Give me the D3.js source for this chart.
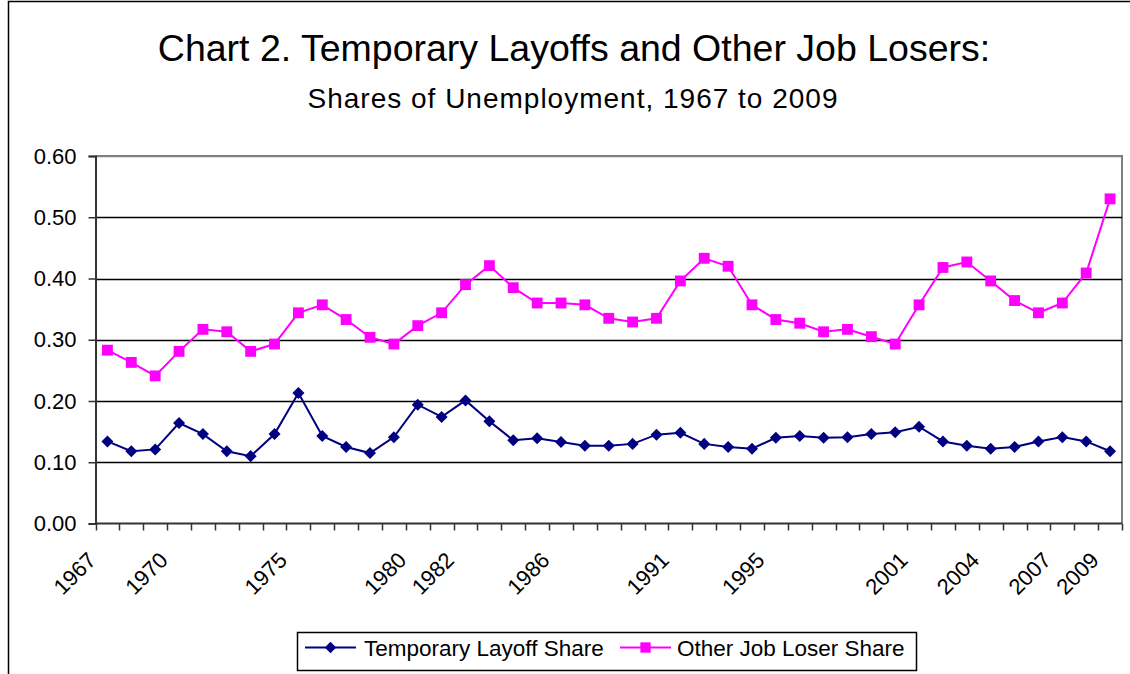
<!DOCTYPE html>
<html>
<head>
<meta charset="utf-8">
<script src="https://cdn.jsdelivr.net/npm/d3@7"></script>
<style>
  body { margin: 0; background: #fff; }
  svg { display: block; font-family: "Liberation Sans", Arial, sans-serif; }
</style>
</head>
<body>
<div id="chart"></div>
<script>
// Years on the category axis
const years = d3.range(1967, 2010);

// Only these years get a label under the axis
const labelYears = [1967, 1970, 1975, 1980, 1982, 1986, 1991, 1995, 2001, 2004, 2007, 2009];

// Temporary layoff share of unemployment
const tempLayoff = [
  0.134, 0.118, 0.121, 0.164, 0.146, 0.118, 0.110, 0.146, 0.213, 0.143,
  0.125, 0.115, 0.141, 0.194, 0.174, 0.201, 0.167, 0.136, 0.139, 0.133,
  0.127, 0.127, 0.130, 0.145, 0.148, 0.130, 0.125, 0.122, 0.140, 0.143,
  0.140, 0.141, 0.146, 0.149, 0.158, 0.134, 0.127, 0.122, 0.125, 0.134,
  0.141, 0.134, 0.118
];

// Other job loser share of unemployment
const otherLoser = [
  0.283, 0.263, 0.241, 0.281, 0.317, 0.313, 0.281, 0.293, 0.344, 0.357,
  0.333, 0.304, 0.293, 0.323, 0.344, 0.390, 0.421, 0.385, 0.360, 0.360,
  0.357, 0.335, 0.329, 0.335, 0.396, 0.433, 0.420, 0.357, 0.333, 0.327,
  0.313, 0.317, 0.305, 0.293, 0.357, 0.418, 0.427, 0.396, 0.364, 0.344,
  0.360, 0.409, 0.530
];

const yTicks = [0, 0.1, 0.2, 0.3, 0.4, 0.5, 0.6];

const width = 1130, height = 674;
const plot = { left: 95.5, right: 1122, top: 156, bottom: 523.5 };

const svg = d3.select('#chart')
  .append('svg')
  .attr('width', width)
  .attr('height', height);

// Chart frame
svg.append('rect')
  .attr('x', 8.5)
  .attr('y', 1.5)
  .attr('width', width + 10)
  .attr('height', height + 10)
  .attr('fill', '#fff')
  .attr('stroke', '#000')
  .attr('stroke-width', 1.5);

// Titles
svg.append('text')
  .attr('x', 574)
  .attr('y', 61)
  .attr('text-anchor', 'middle')
  .style('font-size', '37.5px')
  .text('Chart 2. Temporary Layoffs and Other Job Losers:');

svg.append('text')
  .attr('x', 573)
  .attr('y', 108)
  .attr('text-anchor', 'middle')
  .style('font-size', '28px')
  .style('letter-spacing', '1px')
  .text('Shares of Unemployment, 1967 to 2009');

const x = d3.scaleBand()
  .domain(years)
  .range([plot.left, plot.right]);

const y = d3.scaleLinear()
  .domain([0, 0.6])
  .range([plot.bottom, plot.top]);

const cx = d => x(d) + x.bandwidth() / 2;

// Plot area border (top and right, gray)
svg.append('path')
  .attr('d', `M${plot.left},${plot.top}H${plot.right}V${plot.bottom}`)
  .attr('fill', 'none')
  .attr('stroke', '#808080')
  .attr('stroke-width', 2);

// Gridlines
svg.append('g')
  .selectAll('line')
  .data(yTicks.slice(1))
  .join('line')
  .attr('x1', plot.left)
  .attr('x2', plot.right)
  .attr('y1', d => Math.round(y(d)) + 0.5)
  .attr('y2', d => Math.round(y(d)) + 0.5)
  .attr('stroke', d => d === 0.6 ? '#808080' : '#000')
  .attr('stroke-width', 1.5);

// Y axis
const yAxis = svg.append('g')
  .attr('transform', `translate(${plot.left},0)`)
  .call(d3.axisLeft(y).tickValues(yTicks).tickFormat(d3.format('.2f')).tickSize(7).tickPadding(12));
yAxis.select('.domain').attr('stroke', '#333').attr('stroke-width', 2);
yAxis.selectAll('.tick line').attr('stroke', '#333').attr('stroke-width', 1.5);
yAxis.selectAll('text')
  .style('font-size', '22px')
  .style('font-family', '"Liberation Sans", Arial, sans-serif')
  .attr('fill', '#000');

// X axis: ticks at category boundaries
const xAxisG = svg.append('g');
xAxisG.append('line')
  .attr('x1', plot.left)
  .attr('x2', plot.right)
  .attr('y1', plot.bottom)
  .attr('y2', plot.bottom)
  .attr('stroke', '#333')
  .attr('stroke-width', 2);

const boundaries = years.map(d => x(d)).concat([plot.right]);
xAxisG.selectAll('line.tick')
  .data(boundaries)
  .join('line')
  .attr('class', 'tick')
  .attr('x1', d => Math.round(d) + 0.5)
  .attr('x2', d => Math.round(d) + 0.5)
  .attr('y1', plot.bottom)
  .attr('y2', plot.bottom + 7)
  .attr('stroke', '#333')
  .attr('stroke-width', 1.5);

xAxisG.selectAll('text')
  .data(labelYears)
  .join('text')
  .attr('transform', d => `translate(${cx(d) - 10},${plot.bottom + 38}) rotate(-45)`)
  .attr('text-anchor', 'end')
  .style('font-size', '22px')
  .text(d => d);

// Series
const series = [
  { name: 'Temporary Layoff Share', values: tempLayoff, color: '#000080', symbol: d3.symbolDiamond2, size: 92 },
  { name: 'Other Job Loser Share', values: otherLoser, color: '#FF00FF', symbol: d3.symbolSquare2, size: 150 }
];

const line = d3.line()
  .x((d, i) => cx(years[i]))
  .y(d => y(d));

series.forEach(s => {
  svg.append('path')
    .datum(s.values)
    .attr('d', line)
    .attr('fill', 'none')
    .attr('stroke', s.color)
    .attr('stroke-width', 2);

  svg.append('g')
    .selectAll('path')
    .data(s.values)
    .join('path')
    .attr('transform', (d, i) => `translate(${cx(years[i])},${y(d)})`)
    .attr('d', d3.symbol().type(s.symbol).size(s.size))
    .attr('fill', s.color);
});

// Legend
const legend = svg.append('g');
legend.append('rect')
  .attr('x', 297.5)
  .attr('y', 632.5)
  .attr('width', 619)
  .attr('height', 38)
  .attr('fill', '#fff')
  .attr('stroke', '#000')
  .attr('stroke-width', 1.5);

const legendItems = [
  { s: series[0], x: 305, tx: 364 },
  { s: series[1], x: 620, tx: 677 }
];

legendItems.forEach(item => {
  const g = legend.append('g');
  g.append('line')
    .attr('x1', item.x)
    .attr('x2', item.x + 51)
    .attr('y1', 647.5)
    .attr('y2', 647.5)
    .attr('stroke', item.s.color)
    .attr('stroke-width', 2);
  g.append('path')
    .attr('transform', `translate(${item.x + 25.5},647.5)`)
    .attr('d', d3.symbol().type(item.s.symbol).size(item.s.size * 0.9))
    .attr('fill', item.s.color);
  g.append('text')
    .attr('x', item.tx)
    .attr('y', 656)
    .style('font-size', '22.5px')
    .text(item.s.name);
});
</script>
</body>
</html>
